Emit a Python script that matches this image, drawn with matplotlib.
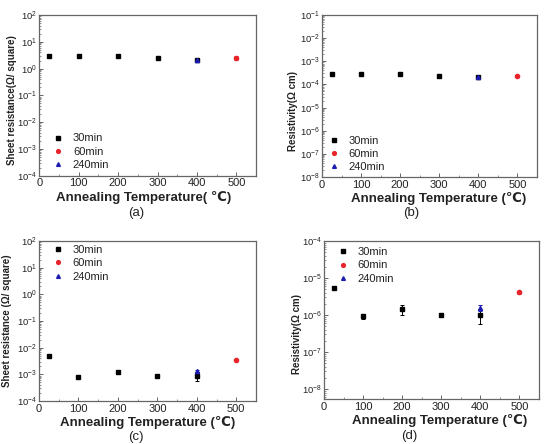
import matplotlib
matplotlib.use("Agg")
import matplotlib.pyplot as plt
from matplotlib.ticker import LogLocator, MultipleLocator, NullFormatter

plt.rcParams['font.family'] = ['Liberation Sans', 'DejaVu Sans']
plt.rcParams['mathtext.default'] = 'regular'

# ---------------- data ----------------
temp30 = [25, 100, 200, 300, 400]
temp60 = [500]
temp240 = [400]

# (a) sheet resistance
a30 = [2.95, 2.9, 2.9, 2.55, 2.15]
a30_err = [0.1, 0.1, 0.1, 0.1, 0.1]
a60 = [2.5]
a60_err = [0.4]
a240 = [2.15]
a240_err = [0.1]

# (b) resistivity
b30 = [2.8e-4, 2.8e-4, 2.8e-4, 2.4e-4, 2.1e-4]
b30_err = [1e-5, 1e-5, 1e-5, 1e-5, 1e-5]
b60 = [2.35e-4]
b60_err = [3e-5]
b240 = [2.1e-4]
b240_err = [1e-5]

# (c) sheet resistance, second set
c30 = [4.7e-3, 8.1e-4, 1.25e-3, 8.9e-4, 8.9e-4]
c30_err = [2e-4, 1.0e-4, 2.5e-4, 8e-5, 3.5e-4]
c60 = [3.4e-3]
c60_err = [3e-4]
c240 = [1.36e-3]
c240_err = [1.5e-4]

# (d) resistivity, second set
d30 = [5.5e-6, 9.4e-7, 1.43e-6, 1.0e-6, 9.8e-7]
d30_err = [2e-7, 1.5e-7, 4.5e-7, 1.0e-7, 4.2e-7]
d60 = [4.1e-6]
d60_err = [3e-7]
d240 = [1.55e-6]
d240_err = [3e-7]

legend_labels = ['30min', '60min', '240min']
xticks = [0, 100, 200, 300, 400, 500]
ylabels = ['Sheet resistance(\u03a9/ square)', 'Resistivity(\u03a9 cm)',
           'Sheet resistance (\u03a9/ square)', 'Resistivity(\u03a9 cm)']
xlabels = ['Annealing Temperature( \u2103)', 'Annealing Temperature (\u2103)',
           'Annealing Temperature (\u2103)', 'Annealing Temperature (\u2103)']
captions = ['(a)', '(b)', '(c)', '(d)']

W, H = 545, 444
fig = plt.figure(figsize=(W / 100, H / 100), dpi=100)


def rect(l, t, r, b):
    return [l / W, 1 - b / H, (r - l) / W, (b - t) / H]


panels = [
    dict(r=rect(39.3, 15, 256, 175.7), ylim=(1e-4, 1e2), d30=a30, e30=a30_err, d60=a60, e60=a60_err,
         d240=a240, e240=a240_err, leg=(0.068, 0.263), ylab=(12, 100), xlab=(144, 197), cap=(136, 213)),
    dict(r=rect(322, 15, 537, 177), ylim=(1e-8, 1e-1), d30=b30, e30=b30_err, d60=b60, e60=b60_err,
         d240=b240, e240=b240_err, leg=(0.036, 0.255), ylab=(292.5, 110.7), xlab=(438.5, 198), cap=(411, 213)),
    dict(r=rect(39, 241, 256, 401), ylim=(1e-4, 1e2), d30=c30, e30=c30_err, d60=c60, e60=c60_err,
         d240=c240, e240=c240_err, leg=(0.066, 0.976), ylab=(7.5, 321), xlab=(148, 422.5), cap=(136, 437)),
    dict(r=rect(324, 241, 539, 399), ylim=(10 ** -8.27, 1e-4), d30=d30, e30=d30_err, d60=d60, e60=d60_err,
         d240=d240, e240=d240_err, leg=(0.066, 0.961), ylab=(297.5, 334), xlab=(440, 420.3), cap=(409, 436)),
]

spine_col = '#666666'
for i, p in enumerate(panels):
    ax = fig.add_axes(p['r'])
    ax.set_yscale('log')
    ax.set_xlim(0, 550)
    ax.set_ylim(*p['ylim'])
    kw = dict(ls='none', capsize=1.2, elinewidth=0.7, capthick=0.7, markersize=3.0)
    ax.errorbar(temp30, p['d30'], yerr=p['e30'], marker='s', color='black', label=legend_labels[0], **kw)
    ax.errorbar(temp60, p['d60'], yerr=p['e60'], marker='o', color='#e8232a', label=legend_labels[1], **kw)
    ax.errorbar(temp240, p['d240'], yerr=p['e240'], marker='^', color='#1c1cb0', label=legend_labels[2], **kw)

    ax.set_xticks(xticks)
    ax.xaxis.set_minor_locator(MultipleLocator(50))
    ax.yaxis.set_major_locator(LogLocator(base=10, numticks=20))
    ax.yaxis.set_minor_locator(LogLocator(base=10, subs=range(2, 10), numticks=20))
    ax.yaxis.set_minor_formatter(NullFormatter())
    ax.tick_params(which='major', direction='in', length=3, width=0.7, color=spine_col,
                   labelsize=8, pad=2, top=False, right=False, labelcolor='#222222')
    ax.tick_params(which='minor', direction='in', length=1.6, width=0.5, color=spine_col,
                   top=False, right=False)
    ax.tick_params(axis='y', which='major', labelsize=6.8, pad=1.5)
    for s in ax.spines.values():
        s.set_color(spine_col)
        s.set_linewidth(0.9)

    handles, labels = ax.get_legend_handles_labels()
    handles = [h[0] for h in handles]
    ax.legend(handles, labels, loc='upper left', bbox_to_anchor=p['leg'], frameon=False,
              fontsize=8, handlelength=0.8, handletextpad=0.9, labelspacing=0.3,
              borderpad=0, borderaxespad=0, markerscale=0.9, labelcolor='#222222')

    fig.text(p['ylab'][0] / W, 1 - p['ylab'][1] / H, ylabels[i], rotation=90, ha='center', va='center',
             fontsize=7, fontweight='bold', color='#222222')
    fig.text(p['xlab'][0] / W, 1 - p['xlab'][1] / H, xlabels[i], ha='center', va='center',
             fontsize=9.5, fontweight='bold', color='#222222')
    fig.text(p['cap'][0] / W, 1 - p['cap'][1] / H, captions[i], ha='center', va='center', fontsize=9.5,
             color='#222222')

fig.savefig('out.png', dpi=100)
